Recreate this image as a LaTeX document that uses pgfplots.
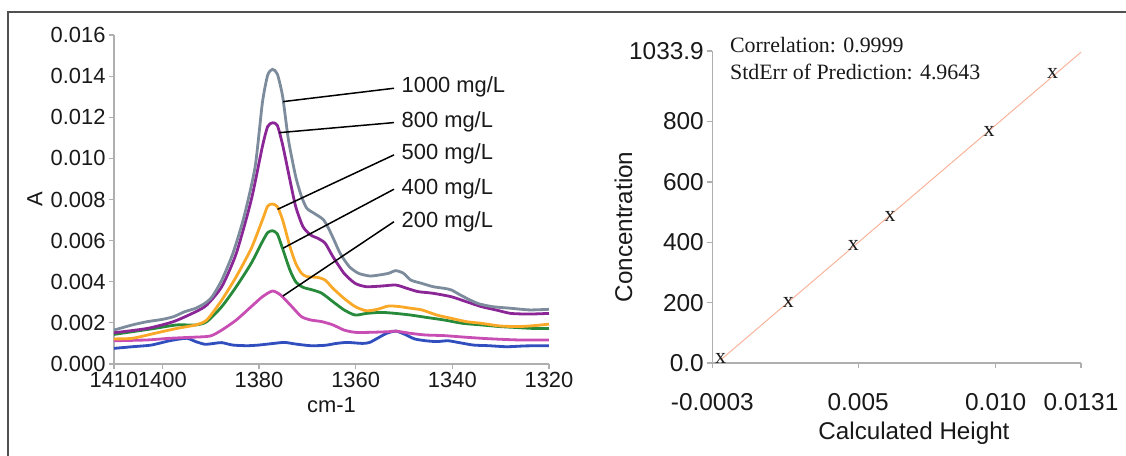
\documentclass[border=0pt]{standalone}
\usepackage{fontspec}
\setmainfont{Liberation Sans}
\newfontfamily\seriffont{Liberation Serif}
\usepackage{pgfplots}
\pgfplotsset{compat=1.18}
\definecolor{cgray}{RGB}{125,140,156}
\definecolor{cpurple}{RGB}{138,38,150}
\definecolor{corange}{RGB}{250,168,40}
\definecolor{cgreen}{RGB}{38,138,58}
\definecolor{cmagenta}{RGB}{200,78,180}
\definecolor{cblue}{RGB}{48,78,190}
\definecolor{axgray}{RGB}{175,175,175}
\definecolor{fitline}{RGB}{248,180,155}
\definecolor{txt}{RGB}{25,25,25}
\definecolor{frame}{RGB}{80,80,80}
\begin{document}
\begin{tikzpicture}
\path[use as bounding box] (0,0) rectangle (1126bp,456bp);
\draw[line width=1.4bp, frame] (8bp,0) -- (8bp,444bp) -- (1126bp,444bp);
\begin{axis}[
  at={(114bp,92bp)}, anchor=south west, scale only axis,
  width=435bp, height=329bp,
  xmin=1320, xmax=1410, x dir=reverse, ymin=0, ymax=0.016,
  axis x line*=bottom, axis y line*=left,
  axis line style={-, axgray, line width=1.2bp},
  tick align=outside, major tick length=5bp,
  tick style={axgray, line width=1.2bp},
  xtick={1410,1400,1380,1360,1340,1320},
  xticklabels={1410,1400,1380,1360,1340,1320},
  ytick={0,0.002,0.004,0.006,0.008,0.010,0.012,0.014,0.016},
  yticklabels={0.000,0.002,0.004,0.006,0.008,0.010,0.012,0.014,0.016},
  scaled y ticks=false, scaled x ticks=false,
  ticklabel style={font=\fontsize{22}{24}\selectfont, text=txt},
  xlabel={cm-1}, ylabel={A},
  label style={font=\fontsize{22}{24}\selectfont, text=txt},
  xlabel style={at={(axis description cs:0.5,-0.125)}, anchor=center},
  ylabel style={at={(axis description cs:-0.182,0.5)}, anchor=center},
  clip=false,
  every axis plot/.append style={line width=2.8bp, smooth, tension=0.4},
]
% blue (baseline)
\addplot[cblue] coordinates {
(1410.0,0.00076) (1406.2,0.00084) (1402.3,0.00092) (1398.5,0.00113) (1395.0,0.00125)
(1393.1,0.00109) (1391.2,0.00096) (1389.3,0.00100) (1387.7,0.00104) (1385.4,0.00092)
(1382.4,0.00089) (1380.1,0.00092) (1377.0,0.00100) (1374.7,0.00105) (1372.4,0.00097)
(1369.3,0.00089) (1366.3,0.00091) (1364.0,0.00100) (1361.7,0.00105) (1358.6,0.00100)
(1357.1,0.00105) (1355.5,0.00125) (1353.6,0.00149) (1351.7,0.00160) (1349.8,0.00144)
(1347.8,0.00122) (1345.5,0.00113) (1343.2,0.00109) (1340.9,0.00113) (1338.6,0.00104)
(1335.6,0.00092) (1332.5,0.00089) (1328.7,0.00084) (1324.8,0.00088) (1320.0,0.00089)};
% magenta 200
\addplot[cmagenta] coordinates {
(1410.0,0.00113) (1403.1,0.00117) (1398.5,0.00125) (1393.9,0.00130) (1390.1,0.00136)
(1387.7,0.00165) (1384.7,0.00214) (1381.6,0.00279) (1379.3,0.00327) (1377.2,0.00355)
(1375.5,0.00335) (1373.2,0.00279) (1371.2,0.00230) (1369.3,0.00214) (1367.0,0.00206)
(1364.7,0.00190) (1362.4,0.00165) (1360.1,0.00154) (1357.1,0.00154) (1353.2,0.00157)
(1351.7,0.00160) (1348.6,0.00149) (1345.5,0.00141) (1341.7,0.00138) (1337.1,0.00130)
(1332.5,0.00123) (1326.4,0.00117) (1320.0,0.00117)};
% green 400
\addplot[cgreen] coordinates {
(1410.0,0.00144) (1406.2,0.00157) (1401.6,0.00173) (1397.0,0.00190) (1393.1,0.00190)
(1390.8,0.00206) (1387.7,0.00279) (1384.7,0.00376) (1381.6,0.00490) (1379.3,0.00595)
(1378.2,0.00639) (1377.2,0.00648) (1376.2,0.00632) (1375.1,0.00560) (1373.6,0.00457)
(1372.4,0.00400) (1370.9,0.00373) (1368.9,0.00360) (1367.0,0.00344) (1364.7,0.00303)
(1362.4,0.00263) (1360.1,0.00238) (1357.8,0.00246) (1354.7,0.00251) (1351.7,0.00246)
(1348.6,0.00238) (1345.5,0.00227) (1341.7,0.00214) (1337.9,0.00198) (1334.0,0.00190)
(1330.2,0.00182) (1326.4,0.00177) (1323.3,0.00173) (1320.0,0.00173)};
% orange 500
\addplot[corange] coordinates {
(1410.0,0.00122) (1406.2,0.00125) (1401.6,0.00149) (1397.0,0.00173) (1393.1,0.00190)
(1390.8,0.00214) (1387.7,0.00311) (1384.7,0.00425) (1381.6,0.00562) (1379.3,0.00700)
(1378.2,0.00768) (1377.2,0.00778) (1376.2,0.00765) (1375.1,0.00700) (1373.6,0.00571)
(1372.4,0.00489) (1371.2,0.00441) (1370.1,0.00425) (1367.8,0.00421) (1366.3,0.00408)
(1364.7,0.00368) (1362.4,0.00319) (1360.1,0.00279) (1357.8,0.00259) (1355.5,0.00266)
(1353.2,0.00282) (1350.9,0.00279) (1348.6,0.00271) (1346.3,0.00263) (1343.2,0.00238)
(1340.2,0.00222) (1337.1,0.00206) (1334.0,0.00198) (1330.2,0.00185) (1326.4,0.00182)
(1323.3,0.00186) (1320.0,0.00194)};
% purple 800
\addplot[cpurple] coordinates {
(1410.0,0.00152) (1403.1,0.00173) (1397.7,0.00206) (1393.1,0.00254) (1390.8,0.00287)
(1387.7,0.00376) (1384.7,0.00538) (1381.6,0.00798) (1379.3,0.01057) (1378.2,0.01155)
(1377.2,0.01173) (1376.2,0.01160) (1375.1,0.01065) (1373.6,0.00895) (1372.4,0.00765)
(1370.9,0.00668) (1369.3,0.00627) (1367.8,0.00611) (1366.3,0.00587) (1364.7,0.00522)
(1362.4,0.00441) (1360.1,0.00392) (1357.8,0.00376) (1354.7,0.00379) (1351.7,0.00384)
(1349.4,0.00368) (1347.1,0.00352) (1344.0,0.00344) (1340.2,0.00327) (1337.1,0.00303)
(1334.0,0.00279) (1331.0,0.00263) (1327.9,0.00246) (1324.0,0.00243) (1320.0,0.00246)};
% gray 1000
\addplot[cgray] coordinates {
(1410.0,0.00165) (1406.2,0.00190) (1403.1,0.00206) (1400.0,0.00217) (1397.7,0.00230)
(1395.4,0.00254) (1393.1,0.00271) (1391.2,0.00295) (1389.7,0.00327) (1387.7,0.00408)
(1385.4,0.00538) (1383.1,0.00716) (1380.8,0.00959) (1379.3,0.01270) (1378.2,0.01405)
(1377.2,0.01433) (1376.2,0.01410) (1375.1,0.01300) (1373.9,0.01089) (1372.4,0.00911)
(1371.2,0.00814) (1370.1,0.00757) (1368.6,0.00733) (1366.6,0.00700) (1365.1,0.00635)
(1363.2,0.00538) (1361.3,0.00473) (1359.4,0.00441) (1357.1,0.00428) (1355.1,0.00433)
(1353.2,0.00441) (1351.7,0.00454) (1350.1,0.00441) (1348.6,0.00408) (1346.3,0.00392)
(1344.0,0.00376) (1341.7,0.00368) (1340.2,0.00360) (1337.9,0.00330) (1334.8,0.00295)
(1331.7,0.00279) (1327.9,0.00271) (1324.0,0.00263) (1320.0,0.00266)};
% pointer lines and labels
\draw[black, line width=1.5bp] (axis cs:1352.07,0.01341) -- (axis cs:1375.03,0.01276);
\draw[black, line width=1.5bp] (axis cs:1352.07,0.01174) -- (axis cs:1375.80,0.01125);
\draw[black, line width=1.5bp] (axis cs:1352.07,0.01017) -- (axis cs:1376.17,0.00752);
\draw[black, line width=1.5bp] (axis cs:1352.07,0.00850) -- (axis cs:1375.03,0.00563);
\draw[black, line width=1.5bp] (axis cs:1352.07,0.00692) -- (axis cs:1375.03,0.00331);
\node[anchor=west, inner sep=0pt, font=\fontsize{22}{24}\selectfont, text=txt] at (axis cs:1350.53,0.01347) {1000 mg/L};
\node[anchor=west, inner sep=0pt, font=\fontsize{22}{24}\selectfont, text=txt] at (axis cs:1350.53,0.01179) {800 mg/L};
\node[anchor=west, inner sep=0pt, font=\fontsize{22}{24}\selectfont, text=txt] at (axis cs:1350.53,0.01021) {500 mg/L};
\node[anchor=west, inner sep=0pt, font=\fontsize{22}{24}\selectfont, text=txt] at (axis cs:1350.53,0.00851) {400 mg/L};
\node[anchor=west, inner sep=0pt, font=\fontsize{22}{24}\selectfont, text=txt] at (axis cs:1350.53,0.00692) {200 mg/L};
\end{axis}
\begin{axis}[
  at={(712.3bp,93bp)}, anchor=south west, scale only axis,
  width=368.7bp, height=312bp,
  xmin=-0.0003, xmax=0.0131, ymin=0, ymax=1033.9,
  axis x line*=bottom, axis y line*=left,
  axis line style={-, axgray, line width=1.2bp},
  tick align=outside, major tick length=5bp,
  tick style={axgray, line width=1.2bp},
  xtick={-0.0003,0.005,0.010,0.0131},
  xticklabels={-0.0003,0.005,0.010,0.0131},
  ytick={0,200,400,600,800,1033.9},
  yticklabels={0.0,200,400,600,800,1033.9},
  scaled x ticks=false, scaled y ticks=false,
  ticklabel style={font=\fontsize{24.5}{26}\selectfont, text=txt},
  xticklabel style={yshift=-22bp},
  xlabel={Calculated Height}, ylabel={Concentration},
  label style={font=\fontsize{24.3}{26}\selectfont, text=txt},
  xlabel style={at={(axis description cs:0.547,-0.224)}, anchor=center},
  ylabel style={at={(axis description cs:-0.241,0.436)}, anchor=center},
  clip=false,
]
\addplot[fitline, line width=1bp] coordinates {(0.0000,10) (0.0131,1030)};
\addplot[only marks, mark=text, text mark={x}, text mark as node=true,
  mark options={solid}, text mark style={font=\seriffont\fontsize{22}{24}\selectfont, text=txt, anchor=center, inner sep=0pt}]
  coordinates {(0.0000,15) (0.00246,200) (0.00483,391) (0.00616,485) (0.00976,766) (0.01207,958)};
\node[anchor=west, inner sep=0pt, font=\seriffont\fontsize{22}{24}\selectfont, text=txt] at (axis cs:0.00034,1053.7) {Correlation: 0.9999};
\node[anchor=west, inner sep=0pt, font=\seriffont\fontsize{22}{24}\selectfont, text=txt] at (axis cs:0.00034,964.2) {StdErr of Prediction: 4.9643};
\end{axis}
\end{tikzpicture}
\end{document}
